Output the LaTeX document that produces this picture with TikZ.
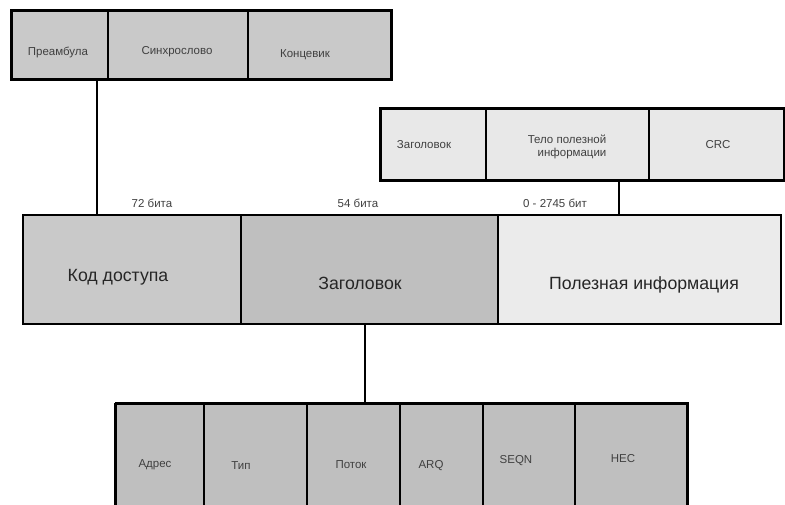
\documentclass[tikz,border=0pt]{standalone}
\usepackage{fontspec}
\setmainfont{Liberation Sans}
\begin{document}
\begin{tikzpicture}[x=1pt,y=-1pt,
  cell/.style={draw=black, line width=1.6pt, rectangle, inner sep=0pt, anchor=north west},
  frame/.style={draw=black, line width=2.6pt},
  conn/.style={draw=black, line width=1.8pt},
  small/.style={font=\fontsize{11.5}{13}\selectfont, text=black!75},
  big/.style={font=\fontsize{17.7}{21}\selectfont, text=black!85}]
\clip (0,0) rectangle (785,505);
\fill[white] (0,0) rectangle (785,505);
% top-left group
\node[cell, fill=black!21, minimum width=96, minimum height=68] (pre) at (11,10) {};
\node[cell, fill=black!21, minimum width=140, minimum height=68] (sync) at (107,10) {};
\node[cell, fill=black!21, minimum width=143, minimum height=68] (tail) at (247,10) {};
\draw[frame] (pre.north west) rectangle (tail.south east);
\node[small] at (58,52) {Преамбула};
\node[small] at (177,52) {Синхрослово};
\node[small] at (305,55) {Концевик};
% top-right group
\node[cell, fill=black!9, minimum width=105, minimum height=71] (hdr2) at (380,108) {};
\node[cell, fill=black!9, minimum width=163, minimum height=71] (body) at (485,108) {};
\node[cell, fill=black!9, minimum width=135, minimum height=71] (crc) at (648,108) {};
\draw[frame] (hdr2.north west) rectangle (crc.south east);
\node[small] at (424,145) {Заголовок};
\node[small, align=center] at (567,147) {Тело полезной\\\hspace*{10pt}информации};
\node[small] at (718,145) {CRC};
% main bar
\node[cell, fill=black!21, minimum width=218, minimum height=109] (acc) at (22,214) {};
\node[cell, fill=black!25, minimum width=257, minimum height=109] (hdr) at (240,214) {};
\node[cell, fill=black!8, minimum width=283, minimum height=109] (pay) at (497,214) {};
\node[big] at (118,277) {Код доступа};
\node[big] at (360,283) {Заголовок};
\node[big] at (644,285) {Полезная информация};
\node[small] at (152,203) {72 бита};
\node[small] at (358,203) {54 бита};
\node[small] at (555,203) {0 - 2745 бит};
% bottom group
\node[cell, fill=black!25, minimum width=88, minimum height=130] (adr) at (115,403) {};
\node[cell, fill=black!25, minimum width=103, minimum height=130] (typ) at (203,403) {};
\node[cell, fill=black!25, minimum width=93, minimum height=130] (flow) at (306,403) {};
\node[cell, fill=black!25, minimum width=83, minimum height=130] (arq) at (399,403) {};
\node[cell, fill=black!25, minimum width=92, minimum height=130] (seqn) at (482,403) {};
\node[cell, fill=black!25, minimum width=112, minimum height=130] (hec) at (574,403) {};
\draw[frame] (adr.north west) -- (hec.north east) -- (hec.south east);
\draw[frame] (adr.north west) -- (adr.south west);
\node[small] at (155,465) {Адрес};
\node[small] at (241,466) {Тип};
\node[small] at (351,465) {Поток};
\node[small] at (431,466) {ARQ};
\node[small] at (516,461) {SEQN};
\node[small] at (623,459) {HEC};
% connectors
\coordinate (c1) at (97,0);
\coordinate (c2) at (619,0);
\coordinate (c3) at (365,0);
\draw[conn] (pre.south -| c1) -- (acc.north -| c1);
\draw[conn] (body.south -| c2) -- (pay.north -| c2);
\draw[conn] (hdr.south -| c3) -- (flow.north -| c3);
\end{tikzpicture}
\end{document}
